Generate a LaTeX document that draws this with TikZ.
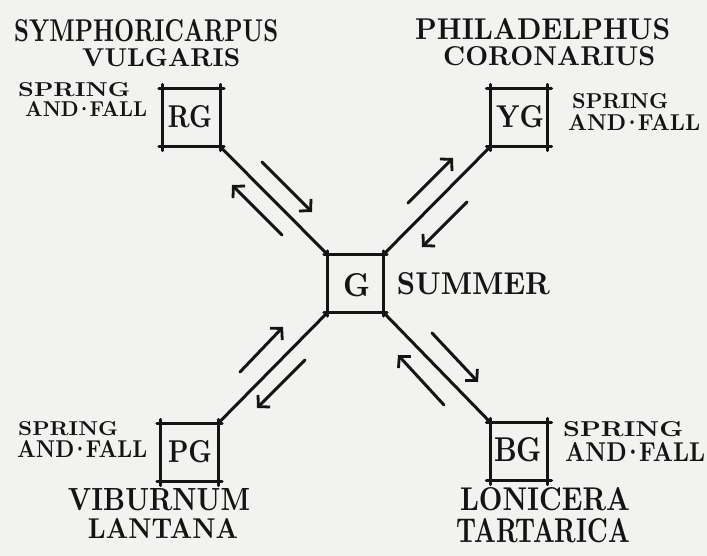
\documentclass[tikz,border=0pt]{standalone}
\usetikzlibrary{arrows.meta}
\definecolor{paper}{RGB}{242,242,240}
\definecolor{ink}{RGB}{20,20,20}
\newcommand\fittext[3]{\resizebox{#1pt}{#2pt}{\bfseries #3}}
\newcommand\twolines[9]{\vbox{\offinterlineskip\hbox{\kern#1pt\fittext{#2}{#3}{#4}}\kern#5pt\hbox{\kern#6pt\fittext{#7}{#8}{#9}}}}
\newcommand\andfall{AND\kern-1.8pt·\kern-1.8pt FALL}
\begin{document}
\begin{tikzpicture}[x=1pt,y=-1pt,
  box/.style={draw=none, minimum width=57pt, minimum height=58pt, inner sep=0pt},
  link/.style={draw=ink, line width=3pt, line cap=round},
  flow/.style={draw=ink, line width=3pt, line cap=round, -{Straight Barb[length=8pt,width=17pt,line width=2.8pt]}},
  lbl/.style={inner sep=0pt, anchor=center, text=ink},
  season/.style={inner sep=0pt, anchor=north west, text=ink}]
\useasboundingbox[fill=paper] (0,0) rectangle (707,556);

% boxes
\node[box] (rg) at (191.5,117.5) {};
\node[box] (yg) at (519,117.5) {};
\node[box, minimum width=55pt, minimum height=57pt] (g) at (355.5,283.5) {};
\node[box] (pg) at (189.5,452.5) {};
\node[box] (bg) at (519,451.5) {};
\foreach \n in {rg,yg,g,pg,bg}{
  \draw[link, shorten <=-4pt, shorten >=-4pt] (\n.north west) -- (\n.north east);
  \draw[link, shorten <=-4pt, shorten >=-4pt] (\n.south west) -- (\n.south east);
  \draw[link, shorten <=-4pt, shorten >=-4pt] (\n.north west) -- (\n.south west);
  \draw[link, shorten <=-4pt, shorten >=-4pt] (\n.north east) -- (\n.south east);
}

% box letters
\node[lbl] (trg) at (190,116.5) {\fittext{44}{22}{RG}};
\node[lbl] (tyg) at (520,116.5) {\fittext{48}{22}{YG}};
\node[lbl] (tg)  at (356.5,285) {\fittext{27}{23}{G}};
\node[lbl] (tpg) at (190,451.5) {\fittext{44}{22}{PG}};
\node[lbl] (tbg) at (518,450) {\fittext{48}{24}{BG}};

% connectors
\draw[link] (rg.south east) -- (g.north west);
\draw[link] (yg.south west) -- (g.north east);
\draw[link] (pg.north east) -- (g.south west);
\draw[link] (bg.north west) -- (g.south east);

% arrows
\coordinate (a1s) at (262,162); \coordinate (a1e) at (312,212);
\coordinate (a2s) at (282,235); \coordinate (a2e) at (232,185);
\coordinate (a3s) at (408,203); \coordinate (a3e) at (453,158);
\coordinate (a4s) at (467,202); \coordinate (a4e) at (422,247);
\coordinate (a5s) at (240,372); \coordinate (a5e) at (283,327);
\coordinate (a6s) at (305,360); \coordinate (a6e) at (257,408);
\coordinate (a7s) at (432,333); \coordinate (a7e) at (478,382);
\coordinate (a8s) at (444,405); \coordinate (a8e) at (398,355);
\foreach \i in {1,...,8}{ \draw[flow] (a\i s) -- (a\i e); }

% names
\node[season] (sym) at (14,19.5)  {\twolines{0}{264}{22}{SYMPHORICARPUS}{6}{68}{158}{18}{VULGARIS}};
\node[season] (phi) at (415,18.5) {\twolines{0}{255}{21}{PHILADELPHUS}{6}{28}{212}{19}{CORONARIUS}};
\node[lbl] (vib) at (159,499.5) {\fittext{182}{22}{VIBURNUM}};
\node[lbl] (lan) at (163,528) {\fittext{150}{20}{LANTANA}};
\node[lbl] (lon) at (545,499.5) {\fittext{170}{23}{LONICERA}};
\node[lbl] (tar) at (543.5,530.5) {\fittext{173}{24}{TARTARICA}};

% seasons
\node[season] (s1) at (18,82)    {\twolines{0}{112}{14}{SPRING}{5.5}{7}{122}{15}{\andfall}};
\node[season] (s2) at (568,93.5) {\twolines{4}{96}{15}{SPRING}{5.5}{0}{132}{16}{\andfall}};
\node[season] (s3) at (17,421)   {\twolines{1}{100}{14}{SPRING}{5.5}{0}{130}{17}{\andfall}};
\node[season] (s4) at (563,421)  {\twolines{0}{120}{15}{SPRING}{6.5}{2}{140}{19}{\andfall}};
\node[lbl] (sum) at (473.5,283.5) {\fittext{153}{22}{SUMMER}};
\end{tikzpicture}
\end{document}
